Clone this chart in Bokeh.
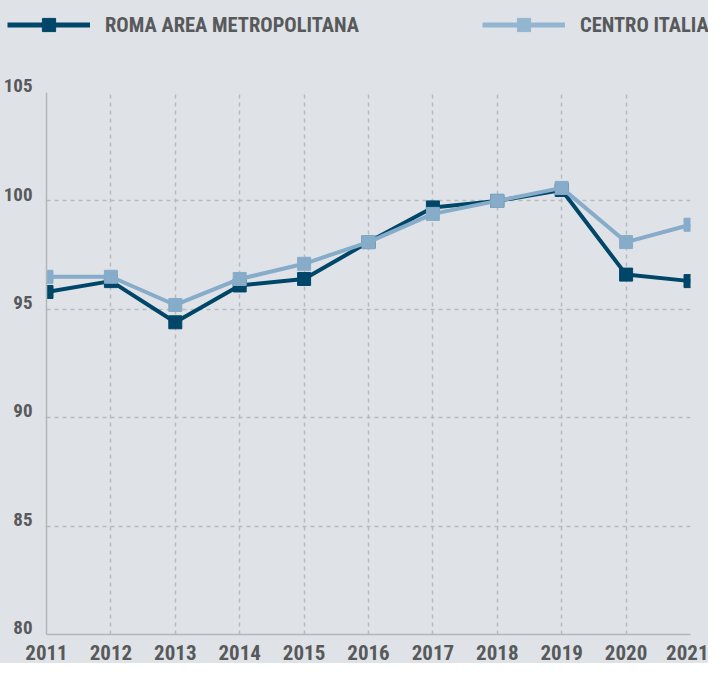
import math
from bokeh.plotting import figure
from bokeh.layouts import column
from bokeh.models import Range1d, Legend, LegendItem, FixedTicker
from bokeh.embed import file_html
from bokeh.resources import INLINE

# ---- data ----
years = [2011, 2012, 2013, 2014, 2015, 2016, 2017, 2018, 2019, 2020, 2021]
roma = [95.8, 96.3, 94.4, 96.1, 96.4, 98.1, 99.7, 100.0, 100.5, 96.6, 96.3]
centro = [96.5, 96.5, 95.2, 96.4, 97.1, 98.1, 99.4, 100.0, 100.6, 98.1, 98.9]
y_ticks = [80, 85, 90, 95, 100, 105]
series_names = ["ROMA AREA METROPOLITANA", "CENTRO ITALIA"]

# ---- style ----
BG = "#dfe3e7"
DARK = "#004669"
LIGHT = "#86acc9"
LIGHT_LEG = "#93b6d0"
TXT = "#58595b"
GRID = "#b7bbbf"
AXIS = "#b3b6b9"
FONT = "'Roboto Condensed', 'DejaVu Sans Condensed', 'Liberation Sans'"

W = 708
LEG_H = 50

# ---- legend strip (its own small figure, no axes) ----
leg = figure(width=W, height=LEG_H, x_range=Range1d(0, 1), y_range=Range1d(0, 1),
             x_axis_location=None, y_axis_location=None,
             output_backend="svg", toolbar_location=None,
             min_border_left=0, min_border_right=0, min_border_top=0, min_border_bottom=0,
             background_fill_color=BG, border_fill_color=BG)
leg.outline_line_color = None
leg.grid.visible = False
leg.frame_align = False

series_colors = [DARK, LIGHT_LEG]
legend_x = [7, 482]
nan = [math.nan]
for name, col, lx in zip(series_names, series_colors, legend_x):
    rl = leg.line(nan, nan, line_color=col, line_width=5)
    rm = leg.scatter(nan, nan, marker="square", fill_color=col, line_color=col)
    lg = Legend(items=[LegendItem(label=name, renderers=[rl, rm])],
                location=(lx, 9), orientation="horizontal",
                glyph_width=83, glyph_height=33, label_height=33,
                label_standoff=15, padding=0, margin=0,
                border_line_color=None, background_fill_alpha=0,
                label_text_font=FONT, label_text_font_style="bold",
                label_text_font_size="20.5px", label_text_color=TXT,
                label_text_baseline="middle")
    leg.add_layout(lg, "center")

# ---- main chart ----
p = figure(width=W, height=663 - LEG_H,
           x_range=Range1d(years[0], years[-1]),
           y_range=Range1d(y_ticks[0], y_ticks[-1]),
           output_backend="svg", toolbar_location=None,
           min_border_left=43, min_border_right=18,
           min_border_top=92 - LEG_H, min_border_bottom=29,
           background_fill_color=BG, border_fill_color=BG)
p.outline_line_color = None
p.frame_align = False

p.xaxis.ticker = FixedTicker(ticks=years)
p.xaxis.major_tick_line_color = None
p.xaxis.minor_tick_line_color = None
p.xaxis.axis_line_color = AXIS
p.xaxis.axis_line_width = 1.5
p.xaxis.major_label_standoff = 4
p.xaxis.major_label_text_font = FONT
p.xaxis.major_label_text_font_style = "bold"
p.xaxis.major_label_text_font_size = "21px"
p.xaxis.major_label_text_color = TXT

p.yaxis.ticker = FixedTicker(ticks=y_ticks)
p.yaxis.major_tick_line_color = None
p.yaxis.minor_tick_line_color = None
p.yaxis.axis_line_color = AXIS
p.yaxis.axis_line_width = 1.5
p.yaxis.major_label_standoff = 8
p.yaxis.major_label_text_font = FONT
p.yaxis.major_label_text_font_style = "bold"
p.yaxis.major_label_text_font_size = "19px"
p.yaxis.major_label_text_color = TXT
p.yaxis.major_label_text_line_height = 0.6
# labels sit just above their grid line: a blank second line pushes them up
p.yaxis.major_label_overrides = {t: f"{t}\n " for t in y_ticks}

p.xgrid.ticker = FixedTicker(ticks=years)
p.ygrid.ticker = FixedTicker(ticks=y_ticks)
for g in (p.xgrid, p.ygrid):
    g.grid_line_color = GRID
    g.grid_line_dash = "4 4"
    g.grid_line_width = 1.5

p.line(years, roma, line_color=DARK, line_width=4)
p.scatter(years, roma, marker="square", size=13, fill_color=DARK, line_color=DARK)
p.line(years, centro, line_color=LIGHT, line_width=4)
p.scatter(years, centro, marker="square", size=13, fill_color=LIGHT, line_color=LIGHT)

layout = column(leg, p, spacing=0, styles={"background-color": BG})
open("out.html", "w").write(file_html(layout, INLINE))
